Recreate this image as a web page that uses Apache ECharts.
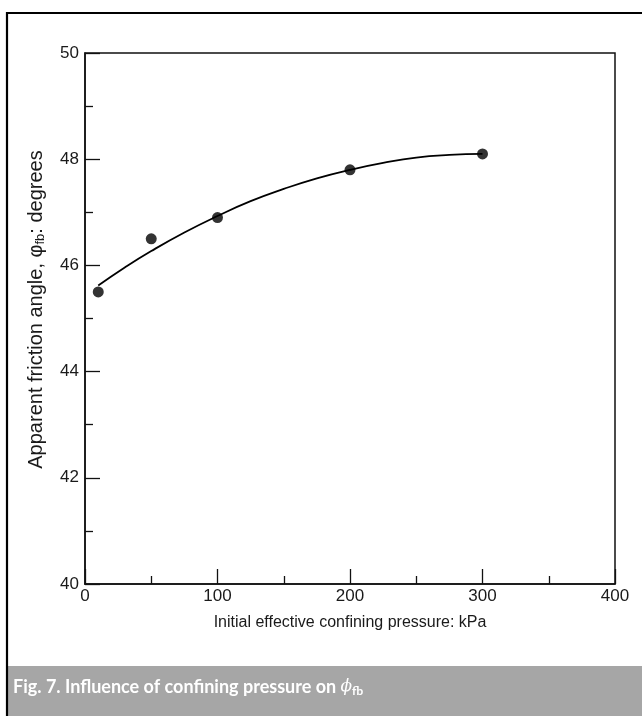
<!DOCTYPE html>
<html>
<head>
<meta charset="utf-8">
<style>
  html, body { margin: 0; padding: 0; background: #fff; }
  #chart { width: 642px; height: 716px; }
</style>
<script src="https://cdn.jsdelivr.net/npm/echarts@6/dist/echarts.min.js"></script>
</head>
<body>
<div id="chart"></div>
<script>
// Measured friction angles (kPa, degrees)
const pressures = [10, 50, 100, 200, 300];
const frictionAngles = [45.5, 46.5, 46.9, 47.8, 48.1];

// Points along the fitted trend curve
const curvePressures = [10, 30, 50, 75, 100, 125, 150, 175, 200, 225, 250, 275, 300];
const curveAngles = [45.62, 45.96, 46.27, 46.62, 46.93, 47.21, 47.44, 47.64, 47.80, 47.93, 48.03, 48.08, 48.10];

// Axis ranges
const xAxisRange = { min: 0, max: 400, step: 100 };
const yAxisRange = { min: 40, max: 50, step: 2 };

const captionText = 'Fig. 7. Influence of confining pressure on ';

const chart = echarts.init(document.getElementById('chart'), null, { renderer: 'canvas' });

const baseFont = 'Liberation Sans, Arial, sans-serif';
const ink = '#1a1a1a';
const tickFont = { fontFamily: baseFont, fontSize: 17, color: ink };

chart.setOption({
  animation: false,
  backgroundColor: '#fff',
  grid: {
    left: 85, right: 27, top: 53, bottom: 132,
    show: true, borderColor: '#111', borderWidth: 1.5, backgroundColor: 'transparent'
  },
  xAxis: {
    type: 'value',
    min: xAxisRange.min, max: xAxisRange.max, interval: xAxisRange.step,
    name: 'Initial effective confining pressure: kPa',
    nameLocation: 'middle', nameGap: 31,
    nameTextStyle: { fontFamily: baseFont, fontSize: 16, color: ink },
    axisLine: { show: true, lineStyle: { color: '#111', width: 1.5 } },
    axisTick: { show: true, inside: true, length: 15, lineStyle: { color: '#111', width: 1.3 } },
    minorTick: { show: true, splitNumber: 2, length: 8, lineStyle: { color: '#111', width: 1.3 } },
    splitLine: { show: false },
    axisLabel: Object.assign({ margin: 4 }, tickFont)
  },
  yAxis: {
    type: 'value',
    min: yAxisRange.min, max: yAxisRange.max, interval: yAxisRange.step,
    name: 'Apparent friction angle, {phi|φ}{sub|fb}: degrees',
    nameLocation: 'middle', nameGap: 38, nameRotate: 90,
    nameTextStyle: {
      fontFamily: baseFont, fontSize: 20, color: ink,
      padding: [0, 0, 0, 18],
      rich: {
        phi: { fontFamily: baseFont, fontSize: 20, color: ink },
        sub: { fontFamily: baseFont, fontSize: 13, color: ink, verticalAlign: 'bottom', padding: [8, 0, 0, 0] }
      }
    },
    axisLine: { show: true, lineStyle: { color: '#111', width: 1.5 } },
    axisTick: { show: true, inside: true, length: 15, lineStyle: { color: '#111', width: 1.3 } },
    minorTick: { show: true, splitNumber: 2, length: 8, lineStyle: { color: '#111', width: 1.3 } },
    splitLine: { show: false },
    axisLabel: Object.assign({ margin: 6 }, tickFont)
  },
  series: [
    {
      type: 'line',
      data: curvePressures.map((p, i) => [p, curveAngles[i]]),
      smooth: true,
      showSymbol: false,
      lineStyle: { color: '#000', width: 1.8 },
      z: 2
    },
    {
      type: 'scatter',
      data: pressures.map((p, i) => [p, frictionAngles[i]]),
      symbol: 'circle',
      symbolSize: 11,
      itemStyle: { color: '#000' },
      z: 3
    }
  ],
  graphic: [
    {
      type: 'rect', z: 1,
      shape: { x: 7, y: 666, width: 640, height: 55 },
      style: { fill: '#a6a6a6' }
    },
    {
      type: 'rect', z: 2,
      shape: { x: 7, y: 13, width: 660, height: 720 },
      style: { fill: 'none', stroke: '#000', lineWidth: 2.2 }
    },
    {
      type: 'text', z: 3,
      x: 13, y: 677,
      style: {
        text: '{b|' + captionText + '}{phi|ϕ}{sub|fb}',
        rich: {
          b: { fontFamily: 'Lato, Open Sans, sans-serif', fontWeight: 'bold', fontSize: 18, fill: '#fff', color: '#fff' },
          phi: { fontFamily: 'DejaVu Serif, serif', fontStyle: 'italic', fontSize: 17, fill: '#fff', color: '#fff' },
          sub: { fontFamily: 'Lato, Open Sans, sans-serif', fontWeight: 'bold', fontSize: 12, fill: '#fff', color: '#fff', padding: [8, 0, 0, 0] }
        }
      }
    }
  ]
});
</script>
</body>
</html>
